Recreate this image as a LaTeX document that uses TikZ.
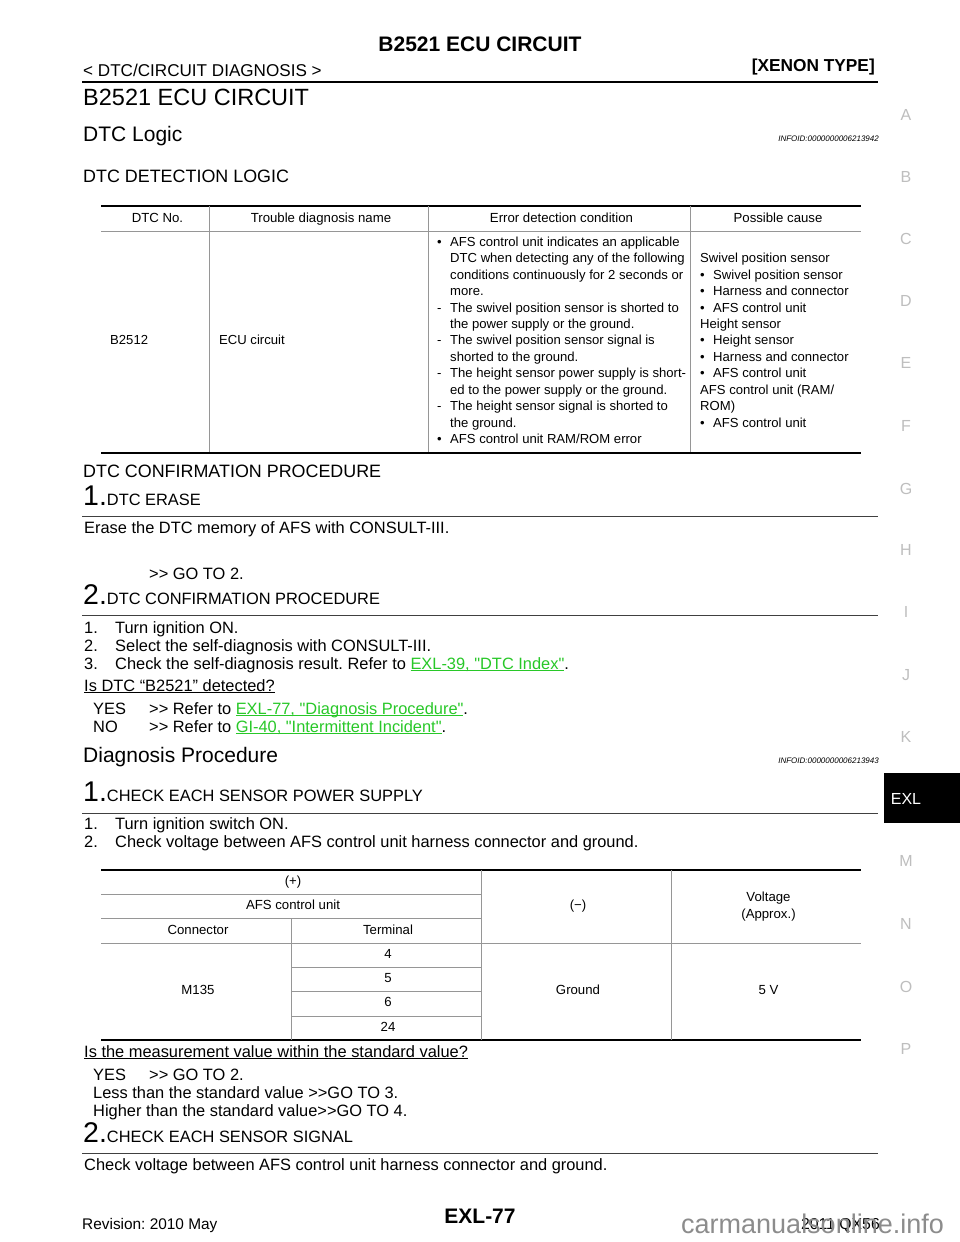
\documentclass[tikz,border=0pt]{standalone}
\usepackage{fontspec}
\defaultfontfeatures[\rmfamily]{}
\setmainfont{Liberation Sans}
\newcommand{\fs}[1]{\fontsize{#1}{#1}\selectfont}
\newsavebox{\ulbox}
\newcommand{\ul}[1]{\sbox{\ulbox}{#1}\rlap{\usebox{\ulbox}}\rule[-2.2pt]{\wd\ulbox}{0.9pt}}
\newcommand{\lnk}[1]{\textcolor{linkgreen}{\ul{#1}}}
\definecolor{linkgreen}{RGB}{40,200,40}
\definecolor{tabgray}{RGB}{150,150,150}
\definecolor{sidegray}{RGB}{190,190,190}
\tikzset{
 txt/.style={anchor=base west,inner sep=0pt,font=\fs{16.4}},
 tab/.style={anchor=base west,inner sep=0pt,font=\fs{13.1}},
 cell/.style={anchor=base,inner sep=0pt,font=\fs{13.2}},
 side/.style={anchor=base,inner sep=0pt,font=\fs{16},text=sidegray},
 thickrule/.style={line width=2pt,black},
 thinrule/.style={line width=0.8pt,tabgray},
 steprule/.style={line width=0.9pt,black!75}
}
\begin{document}
\frenchspacing
\begin{tikzpicture}[x=1pt,y=-1pt]
 \useasboundingbox (0,0) rectangle (960,1242);
 \fill[white] (0,0) rectangle (960,1242);
 % page head
 \node[anchor=base,inner sep=0pt,font=\fs{21}\bfseries] (head) at (480,51) {B2521 ECU CIRCUIT};
 \node[txt,font=\fs{17.1}] (crumb) at (83,76) {< DTC/CIRCUIT DIAGNOSIS >};
 \node[anchor=base east,inner sep=0pt,font=\fs{17.3}\bfseries] (xenon) at (875,71) {[XENON TYPE]};
 \draw[line width=2.2pt] (82,82)--(878,82);
 \node[txt,font=\fs{23.5}] (title) at (83,105) {B2521 ECU CIRCUIT};
 \node[txt,font=\fs{21}] (logic) at (83,141) {DTC Logic};
 \node[anchor=base east,inner sep=0pt,font=\fs{8}\itshape] (id1) at (879,141) {INFOID:0000000006213942};
 \node[txt,font=\fs{17.9}] (detect) at (83,182) {DTC DETECTION LOGIC};
 % first table
 \draw[thickrule] (101,206)--(861,206) (101,452.5)--(861,452.5);
 \draw[thinrule] (101,231)--(861,231);
 \foreach \x in {209.5,428.5,690.5}
  \draw[thinrule] (\x,206)--(\x,452);
 \node[cell] (h1) at (157.5,222) {DTC No.};
 \node[cell] (h2) at (321,222) {Trouble diagnosis name};
 \node[cell] (h3) at (561.5,222) {Error detection condition};
 \node[cell] (h4) at (778,222) {Possible cause};
 \node[tab] (code) at (110,344.5) {B2512};
 \node[tab] (name) at (219,344.5) {ECU circuit};
 % conditions
 \foreach \n/\y/\t in {1/246/AFS control unit indicates an applicable,2/262.5/DTC when detecting any of the following,3/279/conditions continuously for 2 seconds or,4/295.5/more.,5/312/The swivel position sensor is shorted to,6/328/the power supply or the ground.,7/344.5/The swivel position sensor signal is,8/361/shorted to the ground.,9/377.5/The height sensor power supply is short-,10/394/ed to the power supply or the ground.,11/410.5/The height sensor signal is shorted to,12/427/the ground.,13/443/{AFS control unit RAM/ROM error}}
  \node[tab] (err\n) at (450,\y) {\t};
 \foreach \n/\y in {1/246,13/443}
  \node[tab] (dot\n) at (437,\y) {•};
 \foreach \n/\y in {5/312,7/344.5,9/377.5,11/410.5}
  \node[tab] (dash\n) at (437,\y) {-};
 % causes
 \foreach \n/\y/\t in {1/262.5/Swivel position sensor,2/328/Height sensor,3/394/{AFS control unit (RAM/},4/410.5/ROM)}
  \node[tab] (cause\n) at (700,\y) {\t};
 \foreach \n/\y/\t in {1/279/Swivel position sensor,2/295.5/Harness and connector,3/312/AFS control unit,4/344.5/Height sensor,5/361/Harness and connector,6/377.5/AFS control unit,7/427/AFS control unit}{
  \node[tab] (item\n) at (713,\y) {\t};
  \node[tab] (itemdot\n) at (700,\y) {•};
 }
 % confirmation procedure
 \node[txt,font=\fs{17.9}] (confirm) at (83,477) {DTC CONFIRMATION PROCEDURE};
 \node[txt] (step1) at (83,505) {{\fs{28.5}1.}DTC ERASE};
 \draw[steprule] (82,516.5)--(878,516.5);
 \node[txt] (erase) at (84,533) {Erase the DTC memory of AFS with CONSULT-III.};
 \node[txt] (go1) at (149,579) {>> GO TO 2.};
 \node[txt] (step2) at (83,604) {{\fs{28.5}2.}DTC CONFIRMATION PROCEDURE};
 \draw[steprule] (82,615.5)--(878,615.5);
 \node[txt] (c1) at (84,633) {1.};
 \node[txt] (c1t) at (115,633) {Turn ignition ON.};
 \node[txt] (c2) at (84,651) {2.};
 \node[txt] (c2t) at (115,651) {Select the self-diagnosis with CONSULT-III.};
 \node[txt] (c3) at (84,669) {3.};
 \node[txt] (c3t) at (115,669) {Check the self-diagnosis result. Refer to \lnk{EXL-39, "DTC Index"}.};
 \node[txt] (isdtc) at (84,691) {\ul{Is DTC “B2521” detected?}};
 \node[txt] (yes1) at (93,714) {YES};
 \node[txt] (yes1t) at (149,714) {>> Refer to \lnk{EXL-77, "Diagnosis Procedure"}.};
 \node[txt] (no1) at (93,732) {NO};
 \node[txt] (no1t) at (149,732) {>> Refer to \lnk{GI-40, "Intermittent Incident"}.};
 % diagnosis procedure
 \node[txt,font=\fs{21}] (diag) at (83,762) {Diagnosis Procedure};
 \node[anchor=base east,inner sep=0pt,font=\fs{8}\itshape] (id2) at (879,763) {INFOID:0000000006213943};
 \node[txt] (step3) at (83,801) {{\fs{28.5}1.}CHECK EACH SENSOR POWER SUPPLY};
 \draw[steprule] (82,813)--(878,813);
 \node[txt] (d1) at (84,829) {1.};
 \node[txt] (d1t) at (115,829) {Turn ignition switch ON.};
 \node[txt] (d2) at (84,847) {2.};
 \node[txt] (d2t) at (115,847) {Check voltage between AFS control unit harness connector and ground.};
 % second table
 \draw[thickrule] (101,870)--(861,870) (101,1040)--(861,1040);
 \draw[thinrule] (101,894)--(481,894) (101,918)--(481,918) (101,943)--(861,943) (291,967)--(481,967) (291,991.5)--(481,991.5) (291,1016)--(481,1016);
 \draw[thinrule] (291,918)--(291,1040) (481,870)--(481,1040) (671,870)--(671,1040);
 \node[cell] (plus) at (293,885) {(+)};
 \node[cell] (afs) at (293,909) {AFS control unit};
 \node[cell] (conn) at (198,934) {Connector};
 \node[cell] (term) at (388,934) {Terminal};
 \node[cell] (minus) at (578,909) {(−)};
 \node[cell] (volt) at (768.5,901) {Voltage};
 \node[cell] (appr) at (768.5,918) {(Approx.)};
 \foreach \t/\y in {4/958,5/982.5,6/1006.5,24/1031}
  \node[cell] (term\t) at (388,\y) {\t};
 \node[cell] (m135) at (198,994.5) {M135};
 \node[cell] (gnd) at (578,994.5) {Ground};
 \node[cell] (five) at (768.5,994.5) {5 V};
 \node[txt] (isval) at (84,1057) {\ul{Is the measurement value within the standard value?}};
 \node[txt] (yes2) at (93,1080) {YES};
 \node[txt] (yes2t) at (149,1080) {>> GO TO 2.};
 \node[txt] (less) at (93,1098) {Less than the standard value >>GO TO 3.};
 \node[txt] (high) at (93,1116) {Higher than the standard value>>GO TO 4.};
 \node[txt] (step4) at (83,1142) {{\fs{28.5}2.}CHECK EACH SENSOR SIGNAL};
 \draw[steprule] (82,1153.5)--(878,1153.5);
 \node[txt] (check) at (84,1170) {Check voltage between AFS control unit harness connector and ground.};
 % side tabs
 \foreach \t/\y in {A/120,B/182,C/244,D/306,E/368,F/431,G/494,H/555,I/617,J/680,K/742,M/866,N/929,O/992,P/1054}
  \node[side] (tab\t) at (906,\y) {\t};
 \fill[black] (884,773) rectangle (960,823);
 \node[anchor=base,inner sep=0pt,font=\fs{16},text=white] (tabexl) at (906,804) {EXL};
 % foot
 \node[txt,font=\fs{15.4}] (rev) at (82,1229) {Revision: 2010 May};
 \node[anchor=base,inner sep=0pt,font=\fs{21}\bfseries] (page) at (480,1223) {EXL-77};
 \node[anchor=base east,inner sep=0pt,font=\fs{15.8}] (model) at (880,1229) {2011 QX56};
 \node[anchor=base west,inner sep=0pt,font=\fs{27},text=black!45] (mark) at (681,1233) {carmanualsonline.info};
\end{tikzpicture}
\end{document}
